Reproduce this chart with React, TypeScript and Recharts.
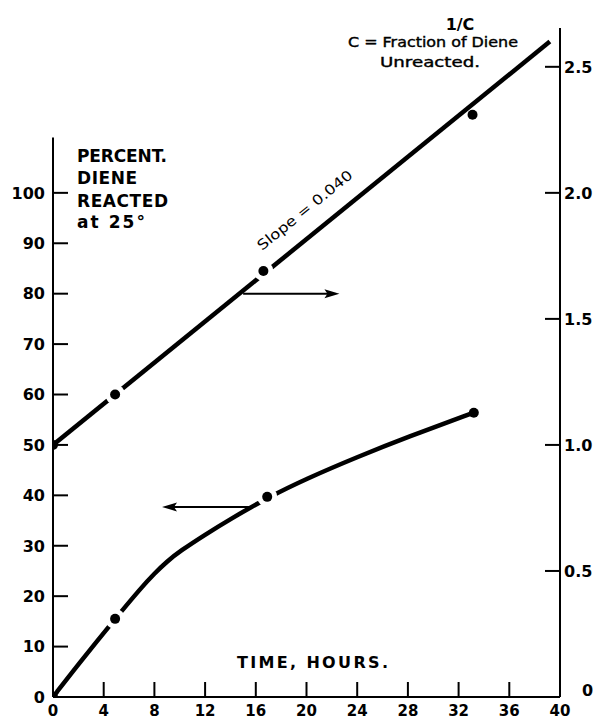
import React from 'react';
import { ComposedChart, Line, XAxis, YAxis, ReferenceLine } from 'recharts';

const timeTicks = [0, 4, 8, 12, 16, 20, 24, 28, 32, 36, 40];
const percentTicks = [0, 10, 20, 30, 40, 50, 60, 70, 80, 90, 100];
const invCTicks = [0, 0.5, 1.0, 1.5, 2.0, 2.5];

// 1/C measured points and fitted straight line (slope 0.040)
const invCPoints = [
  { t: 0, v: 1.0 },
  { t: 4.9, v: 1.2 },
  { t: 16.6, v: 1.69 },
  { t: 33.1, v: 2.31 },
];
const invCFit = [
  { t: 0, v: 1.0 },
  { t: 39.2, v: 2.6 },
];

// Percent diene reacted, measured points and drawn curve
const percentPoints = [
  { t: 0, p: 0 },
  { t: 4.9, p: 15.5 },
  { t: 16.9, p: 39.7 },
  { t: 33.2, p: 56.4 },
];
const percentCurve = [
  { t: 0, p: 0 },
  { t: 2, p: 6.5 },
  { t: 4.9, p: 15.5 },
  { t: 7, p: 21.8 },
  { t: 8, p: 24.5 },
  { t: 9, p: 26.9 },
  { t: 10, p: 28.9 },
  { t: 12, p: 32.2 },
  { t: 14, p: 35.3 },
  { t: 16.9, p: 39.5 },
  { t: 20, p: 43.3 },
  { t: 24, p: 47.6 },
  { t: 28, p: 51.6 },
  { t: 33.2, p: 56.4 },
];

const arrowToRight = [{ x: 15, y: 80 }, { x: 22.6, y: 80 }];
const arrowToLeft = [{ x: 15.5, y: 37.7 }, { x: 8.6, y: 37.7 }];
const leftAxisExtent = [{ x: 0, y: 0 }, { x: 0, y: 111 }];

const FONT = '"DejaVu Sans", sans-serif';

const XTick = (props: any) => {
  const { x, y, payload } = props;
  return (
    <g>
      <line x1={x} y1={y} x2={x} y2={y - 15} stroke="#000" strokeWidth={2} />
      <text x={x} y={y + 19} textAnchor="middle" fontFamily={FONT} fontWeight="bold" fontSize={15} fill="#000">
        {payload.value}
      </text>
    </g>
  );
};

const LeftTick = (props: any) => {
  const { x, y, payload } = props;
  return (
    <g>
      <line x1={x} y1={y} x2={x + 15} y2={y} stroke="#000" strokeWidth={2} />
      <text x={x - 8} y={y} dy="0.36em" textAnchor="end" fontFamily={FONT} fontWeight="bold" fontSize={16} fill="#000">
        {payload.value}
      </text>
    </g>
  );
};

const RightTick = (props: any) => {
  const { x, y, payload } = props;
  const v = payload.value;
  const label = v === 0 ? '0' : v.toFixed(1);
  const isZero = v === 0;
  return (
    <g>
      <line x1={x} y1={y} x2={x - 15} y2={y} stroke="#000" strokeWidth={2} />
      <text
        x={isZero ? x + 22 : x + 4}
        y={isZero ? y - 7 : y}
        dy="0.36em"
        textAnchor="start"
        fontFamily={FONT}
        fontWeight="bold"
        fontSize={16}
        fill="#000"
      >
        {label}
      </text>
    </g>
  );
};

const makeDot = (count: number) => (props: any) => {
  const { cx, cy, index } = props;
  if (cx == null || cy == null) return <g key={`e${index}`} />;
  const halo = index > 0 && index < count - 1;
  return (
    <g key={`d${index}`}>
      {halo && <circle cx={cx} cy={cy} r={10} fill="#fff" />}
      <circle cx={cx} cy={cy} r={5} fill="#000" />
    </g>
  );
};

const ArrowShape = (props: any) => {
  const { x1, y1, x2, y2 } = props;
  const dx = x2 - x1;
  const dy = y2 - y1;
  const len = Math.sqrt(dx * dx + dy * dy) || 1;
  const ux = dx / len;
  const uy = dy / len;
  const head = 15;
  const half = 4.5;
  const bx = x2 - ux * head;
  const by = y2 - uy * head;
  const pts = `${x2},${y2} ${bx - uy * half},${by + ux * half} ${bx + ux * 3},${by + uy * 3} ${bx + uy * half},${by - ux * half}`;
  return (
    <g>
      <line x1={x1} y1={y1} x2={bx + ux * 4} y2={by + uy * 4} stroke="#000" strokeWidth={2} />
      <polygon points={pts} fill="#000" />
    </g>
  );
};

const AxisSegment = (props: any) => {
  const { x1, y1, x2, y2 } = props;
  return <line x1={x1} y1={y1} x2={x2} y2={y2} stroke="#000" strokeWidth={2} />;
};

export default function App() {
  const W = 593;
  const H = 713;
  return (
    <div style={{ position: 'relative', width: W, height: H, background: '#fff' }}>
      <ComposedChart width={W} height={H} margin={{ top: 20, right: 0, bottom: 0, left: 0 }}>
        <XAxis
          type="number"
          dataKey="t"
          domain={[0, 40]}
          ticks={timeTicks}
          tick={<XTick />}
          tickSize={0}
          tickMargin={0}
          tickLine={false}
          axisLine={{ stroke: '#000', strokeWidth: 2 }}
          height={24}
          allowDataOverflow
        />
        <YAxis
          yAxisId="left"
          orientation="left"
          type="number"
          domain={[0, 132.7]}
          ticks={percentTicks}
          tick={<LeftTick />}
          tickSize={0}
          tickMargin={0}
          tickLine={false}
          axisLine={false}
          width={45}
          allowDataOverflow
        />
        <YAxis
          yAxisId="right"
          orientation="right"
          type="number"
          domain={[0, 2.654]}
          ticks={invCTicks}
          tick={<RightTick />}
          tickSize={0}
          tickMargin={0}
          tickLine={false}
          axisLine={{ stroke: '#000', strokeWidth: 2 }}
          width={41}
          allowDataOverflow
        />
        <ReferenceLine yAxisId="left" segment={leftAxisExtent} shape={<AxisSegment />} ifOverflow="visible" />
        <Line
          yAxisId="right"
          data={invCFit}
          dataKey="v"
          type="linear"
          stroke="#000"
          strokeWidth={4.5}
          dot={false}
          activeDot={false}
          isAnimationActive={false}
        />
        <Line
          yAxisId="left"
          data={percentCurve}
          dataKey="p"
          type="basis"
          stroke="#000"
          strokeWidth={4.5}
          dot={false}
          activeDot={false}
          isAnimationActive={false}
        />
        <Line
          yAxisId="right"
          data={invCPoints}
          dataKey="v"
          stroke="none"
          dot={makeDot(invCPoints.length)}
          activeDot={false}
          isAnimationActive={false}
        />
        <Line
          yAxisId="left"
          data={percentPoints}
          dataKey="p"
          stroke="none"
          dot={makeDot(percentPoints.length)}
          activeDot={false}
          isAnimationActive={false}
        />
        <ReferenceLine yAxisId="left" segment={arrowToRight} shape={<ArrowShape />} ifOverflow="visible" />
        <ReferenceLine yAxisId="left" segment={arrowToLeft} shape={<ArrowShape />} ifOverflow="visible" />
      </ComposedChart>
      <svg
        width={W}
        height={H}
        style={{ position: 'absolute', left: 0, top: 0, pointerEvents: 'none' }}
      >
        <g transform="translate(-8,-8)" fontFamily={FONT} fontWeight="bold" fill="#000">
          <text x={77} y={162} fontSize={17} textLength={90} lengthAdjust="spacing">PERCENT.</text>
          <text x={77} y={184} fontSize={17} textLength={60} lengthAdjust="spacing">DIENE</text>
          <text x={77} y={207} fontSize={17} textLength={91} lengthAdjust="spacing">REACTED</text>
          <text x={77} y={228} fontSize={17} textLength={68} lengthAdjust="spacing">at 25°</text>

          <text x={460} y={30} fontSize={16} textAnchor="middle">1/C</text>
          <text x={348} y={47} fontSize={14} textLength={170} lengthAdjust="spacingAndGlyphs" fontWeight="normal" stroke="#000" strokeWidth={0.4}>C = Fraction of Diene</text>
          <text x={380} y={67} fontSize={14} textLength={100} lengthAdjust="spacingAndGlyphs" fontWeight="normal" stroke="#000" strokeWidth={0.4}>Unreacted.</text>

          <text
            x={0}
            y={0}
            fontSize={14}
            fontWeight="normal"
            textLength={118}
            lengthAdjust="spacingAndGlyphs"
            transform="translate(262,251) rotate(-39)"
          >
            Slope = 0.040
          </text>

          <text x={237} y={668} fontSize={16} textLength={151} lengthAdjust="spacing">TIME, HOURS.</text>
        </g>
      </svg>
    </div>
  );
}
